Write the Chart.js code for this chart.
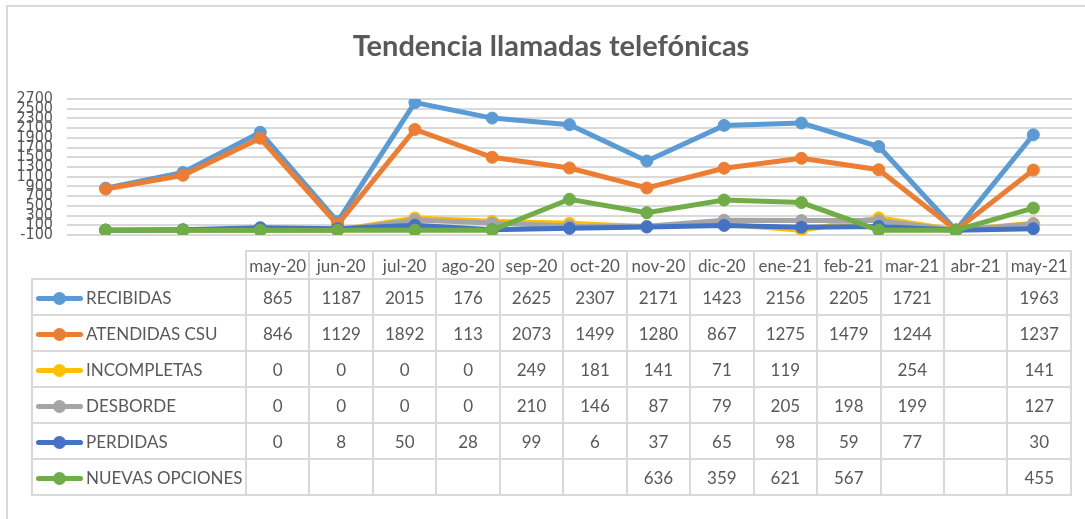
<!DOCTYPE html>
<html>
<head>
<meta charset="utf-8">
<script src="https://cdn.jsdelivr.net/npm/chart.js@4.4.1/dist/chart.umd.min.js"></script>
<style>
    body { margin: 0; background: #fff; }
    #wrap { position: relative; width: 1085px; height: 519px; overflow: hidden; background: #fff; }
    #frame { position: absolute; left: 6px; top: 5px; width: 1100px; height: 540px; border: 2px solid #d9d9d9; }
    #chart { position: absolute; left: 0; top: 0; }
    #tabla {
        position: absolute; left: 31px; top: 250px; width: 1041px;
        border-collapse: collapse; table-layout: fixed;
        font-family: Lato, "Liberation Sans", sans-serif; font-size: 17px; color: #595959;
    }
    #tabla td { border: 2px solid #d9d9d9; padding: 0; text-align: center; white-space: nowrap; }
    #tabla tr.head td { height: 26px; }
    #tabla tr.fila td { height: 34px; }
    #tabla td.esquina { border-top: none; border-left: none; }
    #tabla td.serie { text-align: left; padding-left: 3px; }
    .mk { display: inline-block; position: relative; width: 47px; height: 5px; border-radius: 3px; vertical-align: middle; margin-right: 3px; margin-top: -2px; }
    .mk::after { content: ''; position: absolute; left: 17px; top: -4px; width: 13px; height: 13px; border-radius: 50%; background: inherit; }
</style>
</head>
<body>
<div id="wrap">
    <div id="frame"></div>
    <canvas id="chart" width="1085" height="519"></canvas>
    <table id="tabla"></table>
</div>
<script>
// 月ラベル
const months = ['may-20', 'jun-20', 'jul-20', 'ago-20', 'sep-20', 'oct-20', 'nov-20', 'dic-20', 'ene-21', 'feb-21', 'mar-21', 'abr-21', 'may-21'];

// シリーズ値（空欄は null）
const recibidas   = [865, 1187, 2015, 176, 2625, 2307, 2171, 1423, 2156, 2205, 1721, null, 1963];
const atendidas   = [846, 1129, 1892, 113, 2073, 1499, 1280, 867, 1275, 1479, 1244, null, 1237];
const incompletas = [0, 0, 0, 0, 249, 181, 141, 71, 119, null, 254, null, 141];
const desborde    = [0, 0, 0, 0, 210, 146, 87, 79, 205, 198, 199, null, 127];
const perdidas    = [0, 8, 50, 28, 99, 6, 37, 65, 98, 59, 77, null, 30];
const nuevas      = [null, null, null, null, null, null, 636, 359, 621, 567, null, null, 455];

const seriesNames = ['RECIBIDAS', 'ATENDIDAS CSU', 'INCOMPLETAS', 'DESBORDE', 'PERDIDAS', 'NUEVAS OPCIONES'];
const seriesData = [recibidas, atendidas, incompletas, desborde, perdidas, nuevas];
const seriesColors = ['#5b9bd5', '#ed7d31', '#ffc000', '#a5a5a5', '#4472c4', '#70ad47'];

const yTicksMin = -100, yTicksMax = 2700, yTicksStep = 200;

const textColor = '#595959';

// 空欄はゼロとして描画（Excel の設定と同じ）
const asZero = arr => arr.map(v => v === null ? 0 : v);

const datasets = seriesNames.map((name, i) => ({
    label: name,
    data: asZero(seriesData[i]),
    borderColor: seriesColors[i],
    backgroundColor: seriesColors[i],
    borderWidth: 5,
    pointRadius: 6,
    pointBorderWidth: 1,
    pointHoverRadius: 6,
    order: seriesNames.length - i,
    tension: 0
}));

// タイトルを少し右へ（元の図に合わせる）
const shiftTitle = {
    id: 'shiftTitle',
    afterLayout: chart => {
        if (chart.titleBlock) chart.titleBlock.left += 30;
    }
};

new Chart(document.getElementById('chart').getContext('2d'), {
    type: 'line',
    data: { labels: months, datasets: datasets },
    plugins: [shiftTitle],
    options: {
        responsive: false,
        animation: false,
        layout: { padding: { left: 0, right: 13, top: 0, bottom: 284 } },
        plugins: {
            legend: { display: false },
            tooltip: { enabled: false },
            title: {
                display: true,
                text: 'Tendencia llamadas telefónicas',
                color: textColor,
                font: { family: 'Lato, "Liberation Sans", sans-serif', size: 29, weight: 'bold', lineHeight: 1.2 },
                padding: { top: 29, bottom: 35.2 }
            }
        },
        scales: {
            x: { display: false, offset: true },
            y: {
                min: yTicksMin,
                max: yTicksMax,
                afterFit: s => { s.width = 67; },
                border: { display: false },
                grid: { color: '#d9d9d9', lineWidth: 2, drawTicks: false },
                ticks: {
                    stepSize: yTicksStep,
                    autoSkip: false,
                    padding: 14,
                    color: textColor,
                    font: { family: '"Liberation Sans Narrow", "DejaVu Sans Condensed", sans-serif', size: 16 },
                    callback: v => String(v)
                }
            }
        }
    }
});

// データテーブル
const tabla = document.getElementById('tabla');
let html = '<colgroup><col style="width:214px">' + months.map(() => '<col>').join('') + '</colgroup>';
html += '<tr class="head"><td class="esquina"></td>' + months.map(m => `<td>${m}</td>`).join('') + '</tr>';
seriesNames.forEach((name, i) => {
    html += `<tr class="fila"><td class="serie"><span class="mk" style="background:${seriesColors[i]}"></span>${name}</td>`;
    html += seriesData[i].map(v => `<td>${v === null ? '' : v}</td>`).join('') + '</tr>';
});
tabla.innerHTML = html;
</script>
</body>
</html>
